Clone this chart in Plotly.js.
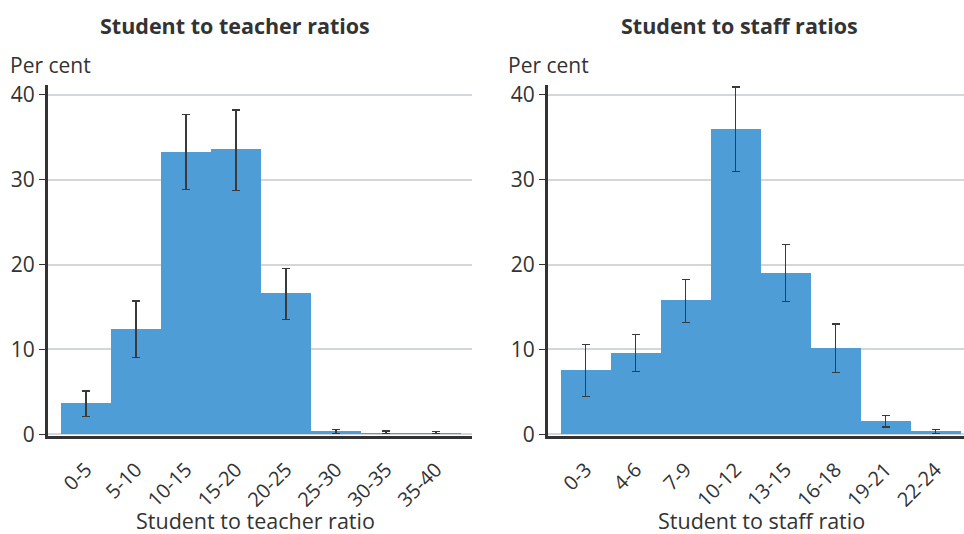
<!DOCTYPE html>
<html>
<head>
<meta charset="utf-8">
<script src="https://cdn.plot.ly/plotly-3.0.1.min.js"></script>
<style>
html,body{margin:0;padding:0;background:#fff;}
#chart{width:964px;height:534px;}
</style>
</head>
<body>
<div id="chart"></div>
<script>
// Data
const teacherCats = ["0-5","5-10","10-15","15-20","20-25","25-30","30-35","35-40"];
const teacherVals = [3.65, 12.4, 33.25, 33.55, 16.6, 0.35, 0.2, 0.2];
const teacherHi   = [5.1, 15.7, 37.7, 38.2, 19.55, 0.55, 0.4, 0.35];
const teacherLo   = [2.05, 9.05, 28.8, 28.7, 13.55, 0.1, 0.05, 0.05];

const staffCats = ["0-3","4-6","7-9","10-12","13-15","16-18","19-21","22-24"];
const staffVals = [7.6, 9.6, 15.85, 35.95, 19.0, 10.2, 1.57, 0.39];
const staffHi   = [10.6, 11.75, 18.25, 40.9, 22.35, 13.0, 2.25, 0.6];
const staffLo   = [4.45, 7.4, 13.2, 31.0, 15.6, 7.3, 0.85, 0.1];

const BAR = "#4f9dd6";
const DARK = "#333333";
const FONT = "Open Sans, sans-serif";

function trace(cats, vals, hi, lo, xa, ya){
  return {
    type: "bar", x: cats, y: vals, xaxis: xa, yaxis: ya,
    cliponaxis: false,
    marker: {color: BAR, line: {width: 0}},
    error_y: {
      type: "data", symmetric: false,
      array: hi.map((h,i)=>h - vals[i]),
      arrayminus: lo.map((l,i)=>vals[i] - l),
      color: "#3a3a3a", thickness: 1.2, width: 4
    },
    hoverinfo: "x+y", showlegend: false
  };
}

const PXU = 8.49;            // pixels per unit
const YMIN = -0.2, YMAX = 41.1;
const yBottomPx = 436;
const yTopPx = yBottomPx - (YMAX - YMIN) * PXU;

const yCommon = {
  range: [YMIN, YMAX], tickvals: [0,10,20,30,40],
  showgrid: true, gridcolor: "#d3d6db", gridwidth: 2,
  zeroline: false, showline: true, linecolor: DARK, linewidth: 3,
  ticks: "outside", ticklen: 6, tickcolor: DARK, tickwidth: 1,
  tickfont: {family: FONT, size: 21, color: DARK},
  domain: [1 - yBottomPx/534, 1 - yTopPx/534], fixedrange: true
};
const xCommon = {
  type: "category", tickangle: -45, showgrid: false, zeroline: false,
  showline: true, linecolor: DARK, linewidth: 3, ticks: "",
  ticklabelstandoff: 11,
  tickfont: {family: FONT, size: 20, color: DARK}, fixedrange: true
};

const layout = {
  width: 964, height: 534,
  margin: {l: 0, r: 0, t: 0, b: 0},
  paper_bgcolor: "#fff", plot_bgcolor: "#fff",
  bargap: 0,
  font: {family: FONT, color: DARK},
  xaxis: Object.assign({}, xCommon, {domain: [48/964, 472/964], range: [-0.76, 7.72], anchor: "y"}),
  yaxis: Object.assign({}, yCommon, {anchor: "x"}),
  xaxis2: Object.assign({}, xCommon, {domain: [548/964, 1], range: [-0.754, 7.57], anchor: "y2"}),
  yaxis2: Object.assign({}, yCommon, {anchor: "x2"}),
  annotations: [
    {text: "<b>Student to teacher ratios</b>", xref: "paper", yref: "paper", x: 235/964, y: 1 - 25/534,
     xanchor: "center", yanchor: "middle", showarrow: false, font: {family: FONT, size: 21.5, color: DARK}},
    {text: "<b>Student to staff ratios</b>", xref: "paper", yref: "paper", x: 739/964, y: 1 - 25/534,
     xanchor: "center", yanchor: "middle", showarrow: false, font: {family: FONT, size: 21.5, color: DARK}},
    {text: "Per cent", xref: "paper", yref: "paper", x: 8/964, y: 1 - 65/534,
     xanchor: "left", yanchor: "middle", showarrow: false, font: {family: FONT, size: 21, color: DARK}},
    {text: "Per cent", xref: "paper", yref: "paper", x: 506/964, y: 1 - 65/534,
     xanchor: "left", yanchor: "middle", showarrow: false, font: {family: FONT, size: 21, color: DARK}},
    {text: "Student to teacher ratio", xref: "paper", yref: "paper", x: 255/964, y: 1 - 520/534,
     xanchor: "center", yanchor: "middle", showarrow: false, font: {family: FONT, size: 21.5, color: DARK}},
    {text: "Student to staff ratio", xref: "paper", yref: "paper", x: 761/964, y: 1 - 520/534,
     xanchor: "center", yanchor: "middle", showarrow: false, font: {family: FONT, size: 21.5, color: DARK}}
  ]
};

Plotly.newPlot("chart", [
  trace(teacherCats, teacherVals, teacherHi, teacherLo, "x", "y"),
  trace(staffCats, staffVals, staffHi, staffLo, "x2", "y2")
], layout, {displayModeBar: false, staticPlot: true});
</script>
</body>
</html>
